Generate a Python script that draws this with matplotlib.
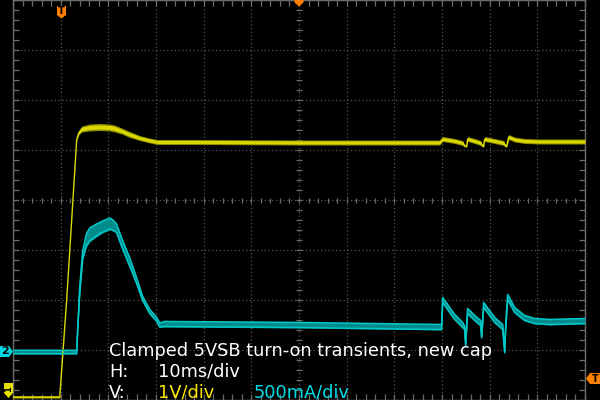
import numpy as np
import matplotlib
matplotlib.use('Agg')
import matplotlib.pyplot as plt
from matplotlib.patches import Polygon
from matplotlib.ticker import MultipleLocator

# ---------------- data ----------------
# Channel 1 (yellow): 5VSB voltage in V, time in ms relative to trigger
ch1_time_ms = [-10.0, -0.2, 1.26, 3.36, 3.78, 4.41, 6.08, 8.18, 10.28, 11.33,
               12.80, 14.48, 16.57, 18.67, 20.35, 29.16, 50.14, 79.51, 80.14,
               82.66, 84.34, 84.76, 85.17, 85.38, 86.85, 88.11, 88.53, 88.74,
               88.95, 91.05, 92.94, 93.36, 93.57, 93.99, 95.24, 97.34, 100.49,
               110.0]
ch1_volts = [0.0, 0.0, 1.94, 5.14, 5.28, 5.36, 5.39, 5.40, 5.39, 5.37,
             5.32, 5.25, 5.18, 5.13, 5.10, 5.10, 5.09, 5.09, 5.16,
             5.12, 5.08, 5.02, 5.02, 5.16, 5.12, 5.08, 5.02, 5.02,
             5.16, 5.12, 5.08, 5.02, 5.02, 5.20, 5.15, 5.12, 5.11,
             5.11]
ch1_spread_v = [0.02, 0.02, 0.005, 0.01, 0.04, 0.06, 0.07, 0.07, 0.07, 0.07,
                0.06, 0.06, 0.05, 0.05, 0.05, 0.05, 0.05, 0.05, 0.05,
                0.05, 0.05, 0.02, 0.02, 0.05, 0.05, 0.05, 0.02, 0.02,
                0.05, 0.05, 0.05, 0.02, 0.02, 0.05, 0.05, 0.05, 0.05,
                0.05]

# Channel 2 (cyan): current in A
ch2_time_ms = [-10.0, 3.36, 3.57, 3.99, 4.62, 5.39, 6.08, 7.49, 8.81, 10.28,
               10.91, 11.69, 13.01, 14.48, 15.88, 17.20, 18.67, 20.08, 20.77,
               21.82, 50.14, 79.51, 79.93, 80.14, 81.61, 82.66, 83.71, 84.34,
               84.76, 84.97, 85.17, 85.38, 86.85, 88.11, 88.32, 88.53, 88.74,
               91.05, 92.73, 93.15, 93.36, 93.78, 95.24, 97.34, 99.44, 102.59,
               110.0]
ch2_amps = [0.0, 0.0, 0.22, 0.61, 0.97, 1.12, 1.175, 1.22, 1.255, 1.285,
            1.27, 1.24, 1.07, 0.90, 0.72, 0.535, 0.405, 0.33, 0.27,
            0.28, 0.27, 0.25, 0.25, 0.52, 0.42, 0.35, 0.30, 0.27,
            0.24, 0.07, 0.25, 0.41, 0.34, 0.29, 0.15, 0.30, 0.47,
            0.32, 0.25, 0.0, 0.25, 0.55, 0.42, 0.34, 0.31, 0.30,
            0.31]
ch2_spread_a = [0.02, 0.02, 0.01, 0.04, 0.05, 0.07, 0.075, 0.07, 0.065, 0.065,
                0.06, 0.05, 0.05, 0.05, 0.035, 0.025, 0.025, 0.025, 0.025,
                0.03, 0.03, 0.03, 0.03, 0.03, 0.03, 0.03, 0.03, 0.03,
                0.02, 0.01, 0.02, 0.03, 0.03, 0.03, 0.01, 0.02, 0.03,
                0.03, 0.03, 0.01, 0.02, 0.03, 0.03, 0.03, 0.03, 0.03,
                0.03]

title_text = "Clamped 5VSB turn-on transients, new cap"
h_label, h_value = "H:", "10ms/div"
v_label, ch1_scale, ch2_scale = "V:", "1V/div", "500mA/div"

# ---------------- scope settings ----------------
MS_PER_DIV = 10.0
V_PER_DIV = 1.0
A_PER_DIV = 0.5
CH1_OFFSET_DIV = -3.94
CH2_OFFSET_DIV = -3.04

YEL = '#d8d800'
YEL_EDGE = '#8a8a00'
CYA = '#00c8c8'
CYA_FILL = '#008c8c'
GRID = '#555555'
FRAME = '#6c6c6c'
ORANGE = '#ff8000'

W, H = 600, 400
fig = plt.figure(figsize=(6, 4), dpi=100, facecolor='black')
ax = fig.add_axes([13 / W, 0, 572 / W, 1])
ax.set_facecolor('black')
ax.set_xlim(-MS_PER_DIV, 11 * MS_PER_DIV)
ax.set_ylim(-4, 4)

# graticule
for k in np.arange(-MS_PER_DIV, 11 * MS_PER_DIV + 0.1, MS_PER_DIV):
    ax.axvline(k, color=GRID, ls=(0, (1, 2)), lw=0.9, zorder=1)
for k in range(-4, 5):
    ax.axhline(k, color=GRID, ls=(0, (1, 2)), lw=0.9, zorder=1)
cx = 5 * MS_PER_DIV
ax.vlines(np.arange(-MS_PER_DIV, 11 * MS_PER_DIV + 0.1, MS_PER_DIV / 5),
          -0.05, 0.05, color=FRAME, lw=0.9, zorder=1)
ax.hlines(np.arange(-4, 4.01, 0.2), cx - 0.63, cx + 0.63, color=FRAME, lw=0.9, zorder=1)

ax.xaxis.set_major_locator(MultipleLocator(MS_PER_DIV / 5))
ax.yaxis.set_major_locator(MultipleLocator(0.2))
ax.tick_params(which='both', direction='in', length=4, width=0.9, color=FRAME,
               top=True, right=True, labelleft=False, labelbottom=False)
for s in ax.spines.values():
    s.set_color(FRAME)
    s.set_linewidth(1.0)

# traces
t1 = np.array(ch1_time_ms)
y1 = np.array(ch1_volts) / V_PER_DIV + CH1_OFFSET_DIV
s1 = np.array(ch1_spread_v) / V_PER_DIV
ax.fill_between(t1, y1 - s1, y1 + s1, color=YEL_EDGE, lw=0, zorder=3)
ax.fill_between(t1, y1 - s1 * 0.6, y1 + s1 * 0.6, color=YEL, lw=0, zorder=3)
ax.plot(t1, y1, color=YEL, lw=1.0, zorder=4)

t2 = np.array(ch2_time_ms)
y2 = np.array(ch2_amps) / A_PER_DIV + CH2_OFFSET_DIV
s2 = np.array(ch2_spread_a) / A_PER_DIV
ax.fill_between(t2, y2 - s2, y2 + s2, color=CYA_FILL, lw=0, zorder=3)
ax.plot(t2, y2 + s2 * 0.85, color=CYA, lw=1.1, zorder=4)
ax.plot(t2, y2 - s2 * 0.85, color=CYA, lw=1.1, zorder=4)


def px(x, y):
    return (x / W, 1 - y / H)


def marker(points, color, label, lx, ly, rot=0, size=7):
    fig.patches.append(Polygon([px(*p) for p in points], closed=True,
                               transform=fig.transFigure, facecolor=color,
                               edgecolor='none', zorder=6))
    fig.text(*px(lx, ly), label, color='black', fontsize=size, fontweight='bold',
             ha='center', va='center', rotation=rot, zorder=7)


marker([(57, 6), (66, 6), (66, 15), (61.5, 18.5), (57, 15)], ORANGE, 'T', 61.5, 11)
fig.patches.append(Polygon([px(294.5, 0), px(303.5, 0), px(303.5, 2.5), px(299, 6.5),
                            px(294.5, 2.5)], closed=True, transform=fig.transFigure,
                           facecolor=ORANGE, edgecolor='none', zorder=6))
marker([(586, 378.5), (590, 373), (600, 373), (600, 384), (590, 384)], ORANGE, 'T', 595, 378.5)
marker([(0, 346), (9, 346), (13, 351.5), (9, 357), (0, 357)], '#00d8e0', '2', 5, 351.5, size=8)
marker([(4, 383), (13, 383), (13, 393), (8.5, 398), (4, 393)], '#e8e000', '1', 8.5, 389, rot=90, size=6)

# annotation text
fs = 12.75
fig.text(*px(109, 356), title_text, color='white', fontsize=fs, va='baseline', zorder=8)
fig.text(*px(109, 377), h_label, color='white', fontsize=fs, va='baseline', zorder=8)
fig.text(*px(158, 377), h_value, color='white', fontsize=fs, va='baseline', zorder=8)
fig.text(*px(109, 397.5), v_label, color='white', fontsize=fs, va='baseline', zorder=8)
fig.text(*px(158, 397.5), ch1_scale, color='#ffe600', fontsize=fs, va='baseline', zorder=8)
fig.text(*px(254, 397.5), ch2_scale, color='#00dce6', fontsize=fs, va='baseline', zorder=8)

fig.savefig('out.png', dpi=100, facecolor='black')
